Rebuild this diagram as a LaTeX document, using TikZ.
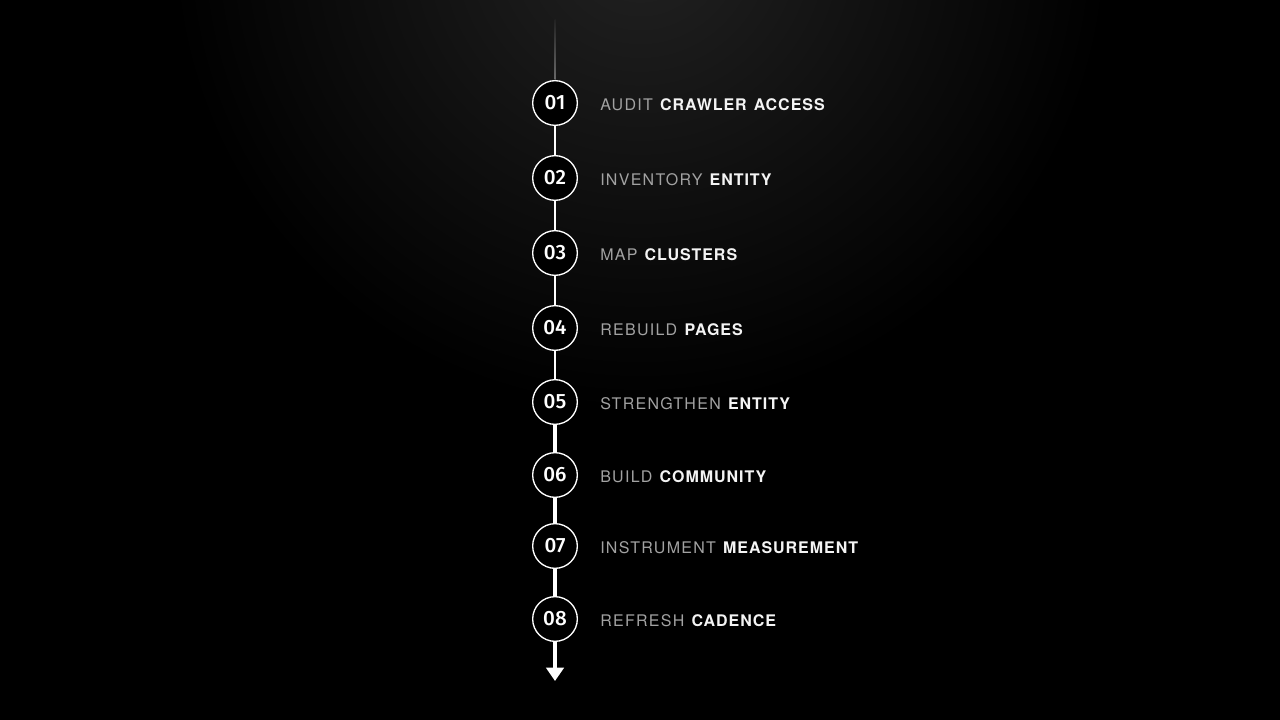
\documentclass[tikz,border=0pt]{standalone}
\usepackage{fontspec}
\setmainfont{TeX Gyre Heros}
\newfontfamily\labfont[LetterSpace=8,WordSpace=1.3]{TeX Gyre Heros}
\newfontfamily\labbold[LetterSpace=6,WordSpace=1.3]{TeX Gyre Heros}
\newfontfamily\numfont{Fira Sans Medium}
\usetikzlibrary{arrows.meta}
\definecolor{dimtext}{HTML}{A2A2A2}
\definecolor{brighttext}{HTML}{F4F4F4}
\definecolor{bgtop}{HTML}{222222}
\definecolor{topline}{HTML}{6A6A6A}
\newcommand\steplabel[2]{{\labfont\color{dimtext}#1}\hspace{0.45em}{\labbold\bfseries\color{brighttext}#2}}
\begin{document}
\begin{tikzpicture}[x=0.75pt,y=-0.75pt,
  stepcircle/.style={circle,draw=white,line width=1pt,fill=black,minimum size=33.5pt,inner sep=0pt,
    text=white,font=\numfont\fontsize{15.5pt}{17pt}\selectfont},
  lab/.style={anchor=base west,inner sep=0pt,font=\fontsize{12pt}{15pt}\selectfont},
  link/.style={draw=white}]
\useasboundingbox (0,0) rectangle (1280,720);
\fill[black] (0,0) rectangle (1280,720);
\shade[inner color=bgtop,outer color=black] (640,-60) circle (470);
\shade[top color=bgtop,bottom color=topline] (554.5,20) rectangle (555.5,80);
\node[stepcircle] (s1) at (555,103) {01};
\node[stepcircle] (s2) at (555,178) {02};
\node[stepcircle] (s3) at (555,253) {03};
\node[stepcircle] (s4) at (555,328) {04};
\node[stepcircle] (s5) at (555,402) {05};
\node[stepcircle] (s6) at (555,475) {06};
\node[stepcircle] (s7) at (555,546) {07};
\node[stepcircle] (s8) at (555,619) {08};
\coordinate (tip) at (555,681);
\draw[link,line width=0.8pt] (s1.south) -- (s2.north);
\draw[link,line width=1.1pt] (s2.south) -- (s3.north);
\draw[link,line width=1.5pt] (s3.south) -- (s4.north);
\draw[link,line width=1.9pt] (s4.south) -- (s5.north);
\draw[link,line width=2.3pt] (s5.south) -- (s6.north);
\draw[link,line width=2.6pt] (s6.south) -- (s7.north);
\draw[link,line width=3.0pt] (s7.south) -- (s8.north);
\draw[link,line width=3.4pt,-{Triangle[width=13pt,length=10pt]}] (s8.south) -- (tip);
\node[lab] (t1) at (600,110.5) {\steplabel{AUDIT}{CRAWLER ACCESS}};
\node[lab] (t2) at (600,185.5) {\steplabel{INVENTORY}{ENTITY}};
\node[lab] (t3) at (600,260.5) {\steplabel{MAP}{CLUSTERS}};
\node[lab] (t4) at (600,335.5) {\steplabel{REBUILD}{PAGES}};
\node[lab] (t5) at (600,409.5) {\steplabel{STRENGTHEN}{ENTITY}};
\node[lab] (t6) at (600,482.5) {\steplabel{BUILD}{COMMUNITY}};
\node[lab] (t7) at (600,553.5) {\steplabel{INSTRUMENT}{MEASUREMENT}};
\node[lab] (t8) at (600,626.5) {\steplabel{REFRESH}{CADENCE}};
\end{tikzpicture}
\end{document}
